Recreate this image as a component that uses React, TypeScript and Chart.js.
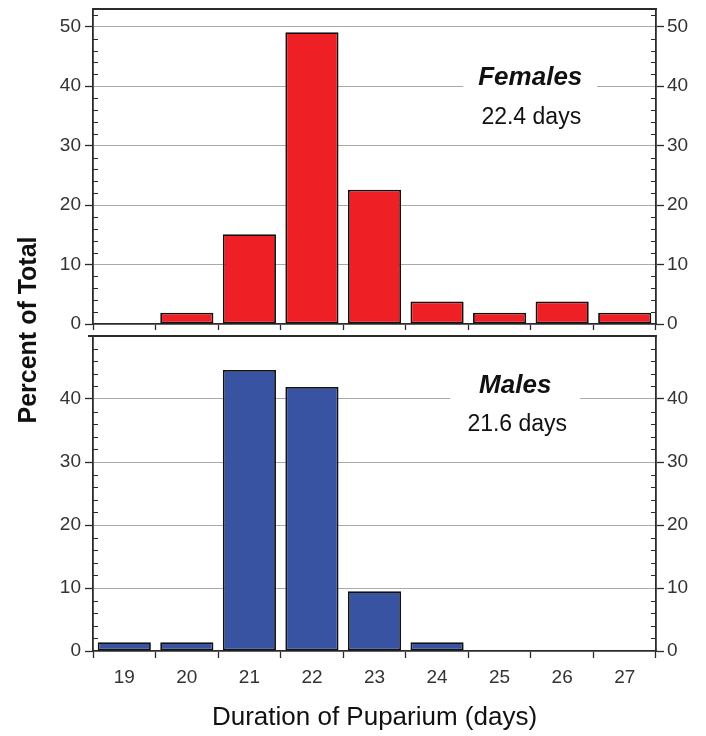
import React, { useEffect, useRef } from "react";
import { Chart, registerables } from "chart.js";

Chart.register(...registerables);

const categories = ["19", "20", "21", "22", "23", "24", "25", "26", "27"];
const femaleValues = [0, 1.9, 15.1, 49.1, 22.6, 3.8, 1.9, 3.8, 1.9];
const maleValues = [1.4, 1.4, 44.6, 41.9, 9.5, 1.4, 0, 0, 0];
const femaleTickValues = [0, 10, 20, 30, 40, 50];
const maleTickValues = [0, 10, 20, 30, 40];
const minorTickValues = [2, 4, 6, 8, 12, 14, 16, 18, 22, 24, 26, 28, 32, 34, 36, 38, 42, 44, 46, 48, 52];
const femaleAxisMax = 53;
const maleAxisMax = 50;
const femaleNote = ["Females", "22.4 days"];
const maleNote = ["Males", "21.6 days"];
const xTitle = "Duration of Puparium (days)";
const yTitle = "Percent of Total";

const FONT = '"Liberation Sans", Arial, Helvetica, sans-serif';
const DARK = "#2b2b2b";
const GRID = "#a9a9a9";
const RED = "#ee1f25";
const BLUE = "#3953a3";

const panelPlugin = {
  id: "panel",
  afterDraw(chart: any, _args: any, opts: any) {
    const { ctx, chartArea } = chart;
    const { left, right, top } = chartArea;
    const y = chart.scales.y;
    const x = chart.scales.x;
    ctx.save();
    ctx.strokeStyle = DARK;
    ctx.lineWidth = 1.8;
    ctx.beginPath();
    ctx.moveTo(left - (opts.topTickOut || 0), top);
    ctx.lineTo(right + 0.9, top);
    ctx.stroke();
    ctx.lineWidth = 1;
    for (const v of minorTickValues) {
      if (v >= y.max) continue;
      const py = Math.round(y.getPixelForValue(v)) + 0.5;
      ctx.beginPath();
      ctx.moveTo(left, py);
      ctx.lineTo(left + 5, py);
      ctx.moveTo(right - 5, py);
      ctx.lineTo(right, py);
      ctx.stroke();
    }
    const cx = x.getPixelForValue(opts.xIndex);
    const ty = y.getPixelForValue(opts.titleValue);
    const sy = y.getPixelForValue(opts.subValue);
    const titleFont = `italic bold ${opts.titleSize}px ${FONT}`;
    const subFont = `${opts.subSize}px ${FONT}`;
    ctx.font = titleFont;
    const w1 = ctx.measureText(opts.lines[0]).width;
    ctx.font = subFont;
    const w2 = ctx.measureText(opts.lines[1]).width;
    const w = Math.max(w1, w2) + 2 * opts.pad;
    ctx.fillStyle = "#ffffff";
    ctx.fillRect(cx - w / 2, ty - 18, w, sy - ty + 34);
    ctx.textAlign = "center";
    ctx.textBaseline = "middle";
    ctx.fillStyle = "#111111";
    ctx.font = titleFont;
    ctx.fillText(opts.lines[0], cx, ty);
    ctx.font = subFont;
    ctx.fillText(opts.lines[1], cx + (opts.subDx || 0), sy);
    ctx.restore();
  },
};

function makeConfig(
  values: number[],
  color: string,
  tickValues: number[],
  axisMax: number,
  note: string[],
  isBottom: boolean
): any {
  const yCommon = {
    min: 0,
    max: axisMax,
    afterBuildTicks: (s: any) => {
      s.ticks = tickValues.map((v) => ({ value: v }));
    },
    border: { display: true, color: DARK, width: 1.8 },
  };
  return {
    type: "bar",
    data: {
      labels: categories,
      datasets: [
        {
          data: values,
          backgroundColor: color,
          borderColor: "#111111",
          borderWidth: 1.8,
          borderSkipped: false,
          barPercentage: 0.85,
          categoryPercentage: 1.0,
        },
      ],
    },
    plugins: [panelPlugin],
    options: {
      responsive: false,
      maintainAspectRatio: false,
      animation: false,
      devicePixelRatio: 1,
      layout: { padding: { top: isBottom ? 6 : 9, left: 0, right: 0, bottom: 0 } },
      plugins: {
        legend: { display: false },
        tooltip: { enabled: false },
        panel: isBottom
          ? { lines: note, xIndex: 6.25, titleValue: 42.1, subValue: 36.0, titleSize: 26, subSize: 23, pad: 15, subDx: 2, topTickOut: 5 }
          : { lines: note, xIndex: 6.49, titleValue: 41.4, subValue: 34.8, titleSize: 26, subSize: 23, pad: 15, subDx: 1, topTickOut: 0 },
      },
      scales: {
        x: {
          type: "category",
          position: "bottom",
          offset: true,
          grid: {
            offset: true,
            drawOnChartArea: false,
            drawTicks: true,
            tickLength: isBottom ? 7 : 6,
            tickColor: DARK,
            tickWidth: 1.3,
          },
          border: { display: true, color: DARK, width: 1.8 },
          ticks: {
            display: isBottom,
            font: { family: FONT, size: 19 },
            color: "#333333",
            padding: 8,
          },
          title: {
            display: isBottom,
            text: xTitle,
            font: { family: FONT, size: 26 },
            color: "#111111",
            padding: { top: 0, bottom: 3 },
          },
          afterFit: (s: any) => {
            s.height = isBottom ? 85 : 12;
            s.paddingLeft = 0;
            s.paddingRight = 0;
            s.paddingTop = 0;
            s.paddingBottom = 0;
          },
        },
        y: {
          ...yCommon,
          position: "left",
          grid: {
            color: (c: any) => (c.tick && c.tick.value === 0 ? "rgba(0,0,0,0)" : GRID),
            lineWidth: 1,
            drawTicks: true,
            tickLength: 8,
            tickColor: DARK,
            tickWidth: 1.3,
          },
          ticks: {
            font: { family: FONT, size: 19 },
            color: "#333333",
            padding: 4,
          },
          afterFit: (s: any) => {
            s.width = 93;
            s.paddingTop = 0;
            s.paddingBottom = 0;
            s.paddingLeft = 0;
            s.paddingRight = 0;
          },
        },
        y2: {
          ...yCommon,
          position: "right",
          grid: {
            drawOnChartArea: false,
            drawTicks: true,
            tickLength: 8,
            tickColor: DARK,
            tickWidth: 1.3,
          },
          ticks: {
            font: { family: FONT, size: 19 },
            color: "#333333",
            padding: 3,
          },
          afterFit: (s: any) => {
            s.width = 50;
            s.paddingTop = 0;
            s.paddingBottom = 0;
            s.paddingLeft = 0;
            s.paddingRight = 0;
          },
        },
      },
    },
  };
}

export default function App() {
  const topRef = useRef<HTMLCanvasElement | null>(null);
  const botRef = useRef<HTMLCanvasElement | null>(null);

  useEffect(() => {
    const c1 = new Chart(
      topRef.current as HTMLCanvasElement,
      makeConfig(femaleValues, RED, femaleTickValues, femaleAxisMax, femaleNote, false)
    );
    const c2 = new Chart(
      botRef.current as HTMLCanvasElement,
      makeConfig(maleValues, BLUE, maleTickValues, maleAxisMax, maleNote, true)
    );
    return () => {
      c1.destroy();
      c2.destroy();
    };
  }, []);

  return (
    <div
      style={{
        position: "fixed",
        left: 0,
        top: 0,
        width: 706,
        height: 736,
        background: "#ffffff",
        overflow: "hidden",
      }}
    >
      <canvas
        ref={topRef}
        width={706}
        height={336}
        style={{ position: "absolute", left: 0, top: 0, width: 706, height: 336 }}
      />
      <canvas
        ref={botRef}
        width={706}
        height={406}
        style={{ position: "absolute", left: 0, top: 330, width: 706, height: 406 }}
      />
      <div
        style={{
          position: "absolute",
          left: 27 - 150,
          top: 330 - 16,
          width: 300,
          height: 32,
          lineHeight: "32px",
          textAlign: "center",
          transform: "rotate(-90deg)",
          fontFamily: FONT,
          fontWeight: "bold",
          fontSize: 25,
          color: "#111111",
          whiteSpace: "nowrap",
        }}
      >
        {yTitle}
      </div>
    </div>
  );
}
